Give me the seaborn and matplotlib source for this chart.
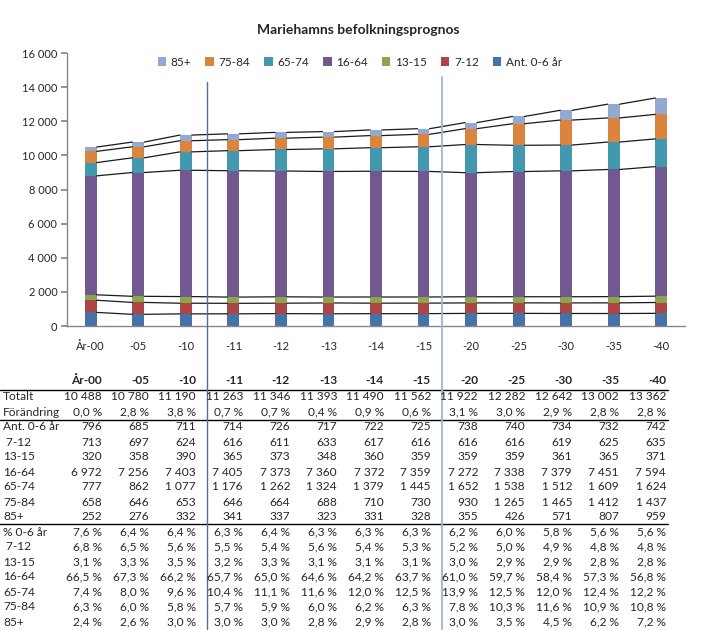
import numpy as np
import pandas as pd
import matplotlib
matplotlib.use("Agg")
import matplotlib.pyplot as plt
from matplotlib.lines import Line2D
from matplotlib.patches import Patch
import seaborn as sns

# ---------------- data ----------------
years = ["År-00", "-05", "-10", "-11", "-12", "-13", "-14", "-15",
         "-20", "-25", "-30", "-35", "-40"]
age_0_6 = [796, 685, 711, 714, 726, 717, 722, 725, 738, 740, 734, 732, 742]
age_7_12 = [713, 697, 624, 616, 611, 633, 617, 616, 616, 616, 619, 625, 635]
age_13_15 = [320, 358, 390, 365, 373, 348, 360, 359, 359, 359, 361, 365, 371]
age_16_64 = [6972, 7256, 7403, 7405, 7373, 7360, 7372, 7359, 7272, 7338, 7379, 7451, 7594]
age_65_74 = [777, 862, 1077, 1176, 1262, 1324, 1379, 1445, 1652, 1538, 1512, 1609, 1624]
age_75_84 = [658, 646, 653, 646, 664, 688, 710, 730, 930, 1265, 1465, 1412, 1437]
age_85 = [252, 276, 332, 341, 337, 323, 331, 328, 355, 426, 571, 807, 959]
totalt = [10488, 10780, 11190, 11263, 11346, 11393, 11490, 11562, 11922, 12282, 12642, 13002, 13362]
forandring = [0.0, 2.8, 3.8, 0.7, 0.7, 0.4, 0.9, 0.6, 3.1, 3.0, 2.9, 2.8, 2.8]
pct_0_6 = [7.6, 6.4, 6.4, 6.3, 6.4, 6.3, 6.3, 6.3, 6.2, 6.0, 5.8, 5.6, 5.6]
pct_7_12 = [6.8, 6.5, 5.6, 5.5, 5.4, 5.6, 5.4, 5.3, 5.2, 5.0, 4.9, 4.8, 4.8]
pct_13_15 = [3.1, 3.3, 3.5, 3.2, 3.3, 3.1, 3.1, 3.1, 3.0, 2.9, 2.9, 2.8, 2.8]
pct_16_64 = [66.5, 67.3, 66.2, 65.7, 65.0, 64.6, 64.2, 63.7, 61.0, 59.7, 58.4, 57.3, 56.8]
pct_65_74 = [7.4, 8.0, 9.6, 10.4, 11.1, 11.6, 12.0, 12.5, 13.9, 12.5, 12.0, 12.4, 12.2]
pct_75_84 = [6.3, 6.0, 5.8, 5.7, 5.9, 6.0, 6.2, 6.3, 7.8, 10.3, 11.6, 10.9, 10.8]
pct_85 = [2.4, 2.6, 3.0, 3.0, 3.0, 2.8, 2.9, 2.8, 3.0, 3.5, 4.5, 6.2, 7.2]

series_names = ["Ant. 0-6 år", "7-12", "13-15", "16-64", "65-74", "75-84", "85+"]
series_vals = [age_0_6, age_7_12, age_13_15, age_16_64, age_65_74, age_75_84, age_85]
colors = ["#4572A7", "#AA4643", "#89A54E", "#71588F", "#4198AF", "#DB843D", "#93A9CF"]
y_ticks = [0, 2000, 4000, 6000, 8000, 10000, 12000, 14000, 16000]

# ---------------- figure ----------------
sns.set_theme(style="white")
plt.rcParams["font.family"] = ["Lato", "DejaVu Sans"]

W, H = 721, 630
fig = plt.figure(figsize=(W / 100, H / 100), dpi=100)
fig.patch.set_facecolor("white")

ax_left, ax_right, ax_top, ax_bot = 67, 685, 53, 326
ax = fig.add_axes([ax_left / W, 1 - ax_bot / H, (ax_right - ax_left) / W, (ax_bot - ax_top) / H])

df = pd.DataFrame({"year": years})
cum = np.zeros(len(years))
cums = []
for vals in series_vals:
    cum = cum + np.array(vals)
    cums.append(cum.copy())
for name, c in zip(series_names, cums):
    df[name] = c

bw = 0.25
# draw from tallest cumulative to smallest so the layers stack visually
for name, col in reversed(list(zip(series_names, colors))):
    sns.barplot(data=df, x="year", y=name, color=col, width=bw, ax=ax,
                saturation=1, linewidth=0, order=years)

# series lines joining segment tops
n = len(years)
for c in cums:
    for i in range(n - 1):
        ax.plot([i + bw / 2, i + 1 - bw / 2], [c[i], c[i + 1]], color="#1a1a1a", lw=0.9, zorder=3)

ax.set_xlim(-0.5, n - 0.5)
ax.set_ylim(0, 16000)
ax.set_yticks(y_ticks)
ax.set_yticklabels([f"{v:,}".replace(",", " ") for v in y_ticks], fontsize=8)
ax.set_xticks(range(n))
ax.set_xticklabels(years, fontsize=8)
ax.set_xlabel("")
ax.set_ylabel("")
for s in ["top", "right"]:
    ax.spines[s].set_visible(False)
for s in ["left", "bottom"]:
    ax.spines[s].set_color("#868686")
    ax.spines[s].set_linewidth(1)
ax.tick_params(axis="y", which="both", left=True, length=4, color="#868686", pad=3)
ax.tick_params(axis="x", which="both", bottom=False, pad=5)

# legend
handles = [Patch(facecolor=col, edgecolor="none") for col in reversed(colors)]
labels = list(reversed(series_names))
fig.legend(handles, labels, loc="center", bbox_to_anchor=(360 / W, 1 - 62 / H), ncol=7,
           frameon=False, fontsize=8.5, handlelength=0.7, handleheight=0.7,
           handletextpad=0.4, columnspacing=1.2)

# title
fig.text(358 / W, 1 - 30 / H, "Mariehamns befolkningsprognos", ha="center", va="center",
         fontsize=10, fontweight="bold")

# ---------------- table ----------------
def fy(y):
    return 1 - y / H

col_right = [102 + 47 * i for i in range(n)]
fs = 8.6

for i, yr in enumerate(years):
    fig.text(col_right[i] / W, fy(381), yr, ha="right", va="center", fontsize=fs, fontweight="bold")

def fmt_int(v):
    return f"{v:,}".replace(",", " ")

def fmt_pct(v):
    return f"{v:.1f}".replace(".", ",") + " %"

rows = [
    ("Totalt", totalt, fmt_int),
    ("Förändring", forandring, fmt_pct),
    ("Ant. 0-6 år", age_0_6, fmt_int),
    (" 7-12", age_7_12, fmt_int),
    ("13-15", age_13_15, fmt_int),
    ("16-64", age_16_64, fmt_int),
    ("65-74", age_65_74, fmt_int),
    ("75-84", age_75_84, fmt_int),
    ("85+", age_85, fmt_int),
    ("% 0-6 år", pct_0_6, fmt_pct),
    (" 7-12", pct_7_12, fmt_pct),
    ("13-15", pct_13_15, fmt_pct),
    ("16-64", pct_16_64, fmt_pct),
    ("65-74", pct_65_74, fmt_pct),
    ("75-84", pct_75_84, fmt_pct),
    ("85+", pct_85, fmt_pct),
]
for k, (lab, vals, f) in enumerate(rows):
    y = 397 + 15 * k
    fig.text(3 / W, fy(y), lab, ha="left", va="center", fontsize=fs)
    for i, v in enumerate(vals):
        fig.text(col_right[i] / W, fy(y), f(v), ha="right", va="center", fontsize=fs)

for yline in [390, 420, 524]:
    fig.add_artist(Line2D([0, 668 / W], [fy(yline), fy(yline)], color="black", lw=1.0))

# vertical separators
fig.add_artist(Line2D([207 / W, 207 / W], [fy(82), 0], color="#4F6FA3", lw=1.0))
fig.add_artist(Line2D([442 / W, 442 / W], [fy(77), 0], color="#9DB5D8", lw=1.3))

fig.savefig("out.png", dpi=100, facecolor="white")
